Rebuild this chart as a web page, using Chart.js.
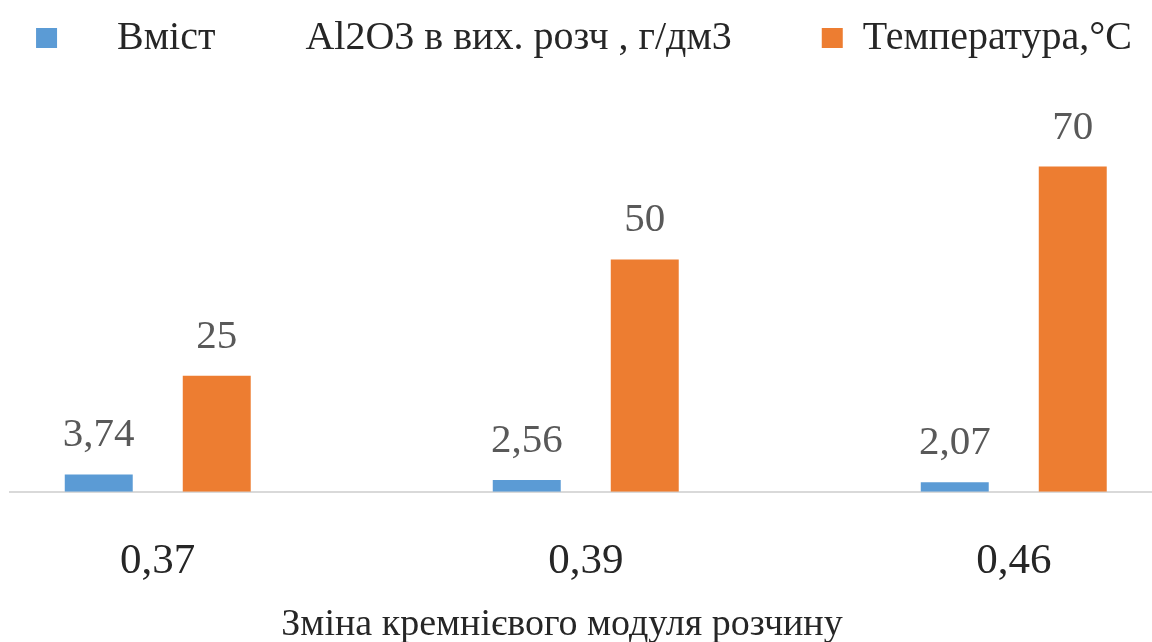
<!DOCTYPE html>
<html>
<head>
<meta charset="utf-8">
<script src="https://cdn.jsdelivr.net/npm/chart.js@4/dist/chart.umd.min.js"></script>
<style>
  html, body { margin: 0; padding: 0; background: #ffffff; overflow: hidden; }
  #wrap { width: 1152px; height: 648px; }
</style>
</head>
<body>
<div id="wrap"><canvas id="c" width="1152" height="648"></canvas></div>
<script>
const categories = ["0,37", "0,39", "0,46"];
const seriesNames = ["Вміст         Al2O3 в вих. розч , г/дм3", "Температура,°С"];
const aluminaContent = [3.74, 2.56, 2.07];
const temperature = [25, 50, 70];
const axisTitle = "Зміна кремнієвого модуля розчину";

const FONT = '"Liberation Serif", "Times New Roman", serif';
const toPoints = arr => arr.map((v, i) => ({ x: i, y: v }));
const fmt = v => String(v).replace('.', ',');

const valueLabels = {
  id: 'valueLabels',
  afterDatasetsDraw(chart) {
    const ctx = chart.ctx;
    ctx.save();
    ctx.font = '41px ' + FONT;
    ctx.fillStyle = '#595959';
    ctx.textAlign = 'center';
    ctx.textBaseline = 'alphabetic';
    chart.data.datasets.forEach((ds, di) => {
      const meta = chart.getDatasetMeta(di);
      meta.data.forEach((el, i) => {
        ctx.fillText(fmt(ds.data[i].y), el.x, el.y - 28);
      });
    });
    ctx.restore();
  }
};

new Chart(document.getElementById('c'), {
  type: 'bar',
  data: {
    datasets: [
      { label: seriesNames[0], data: toPoints(aluminaContent), backgroundColor: '#5B9BD5' },
      { label: seriesNames[1], data: toPoints(temperature), backgroundColor: '#ED7D31' }
    ]
  },
  options: {
    responsive: false,
    animation: false,
    events: [],
    categoryPercentage: 0.5514,
    barPercentage: 0.576,
    layout: { padding: { left: 10, right: 0, top: 8, bottom: 0 } },
    plugins: {
      tooltip: { enabled: false },
      legend: {
        position: 'top',
        align: 'end',
        labels: {
          font: { family: FONT, size: 40 },
          color: '#262626',
          boxWidth: 21,
          boxHeight: 20,
          padding: 10,
          generateLabels(chart) {
            const items = Chart.defaults.plugins.legend.labels.generateLabels(chart);
            items.forEach((it, i) => {
              it.lineWidth = 0;
              it.text = i === 0 ? '    ' + it.text + '        ' : it.text + ' ';
            });
            return items;
          }
        }
      }
    },
    scales: {
      x: {
        type: 'linear',
        offset: false,
        min: -0.3452,
        max: 2.3230,
        grid: { display: false, drawTicks: false },
        border: { display: true, color: '#d9d9d9', width: 2 },
        afterBuildTicks(scale) {
          scale.ticks = categories.map((_, i) => ({ value: i }));
        },
        ticks: {
          autoSkip: false,
          maxRotation: 0,
          padding: 44,
          color: '#262626',
          font: { family: FONT, size: 43 },
          callback: v => categories[v]
        },
        title: {
          display: true,
          text: axisTitle + '    ',
          color: '#262626',
          font: { family: FONT, size: 38 },
          padding: { top: -29, bottom: 0 }
        }
      },
      y: {
        display: false,
        min: 0,
        max: 91.2
      }
    }
  },
  plugins: [valueLabels]
});
</script>
</body>
</html>
